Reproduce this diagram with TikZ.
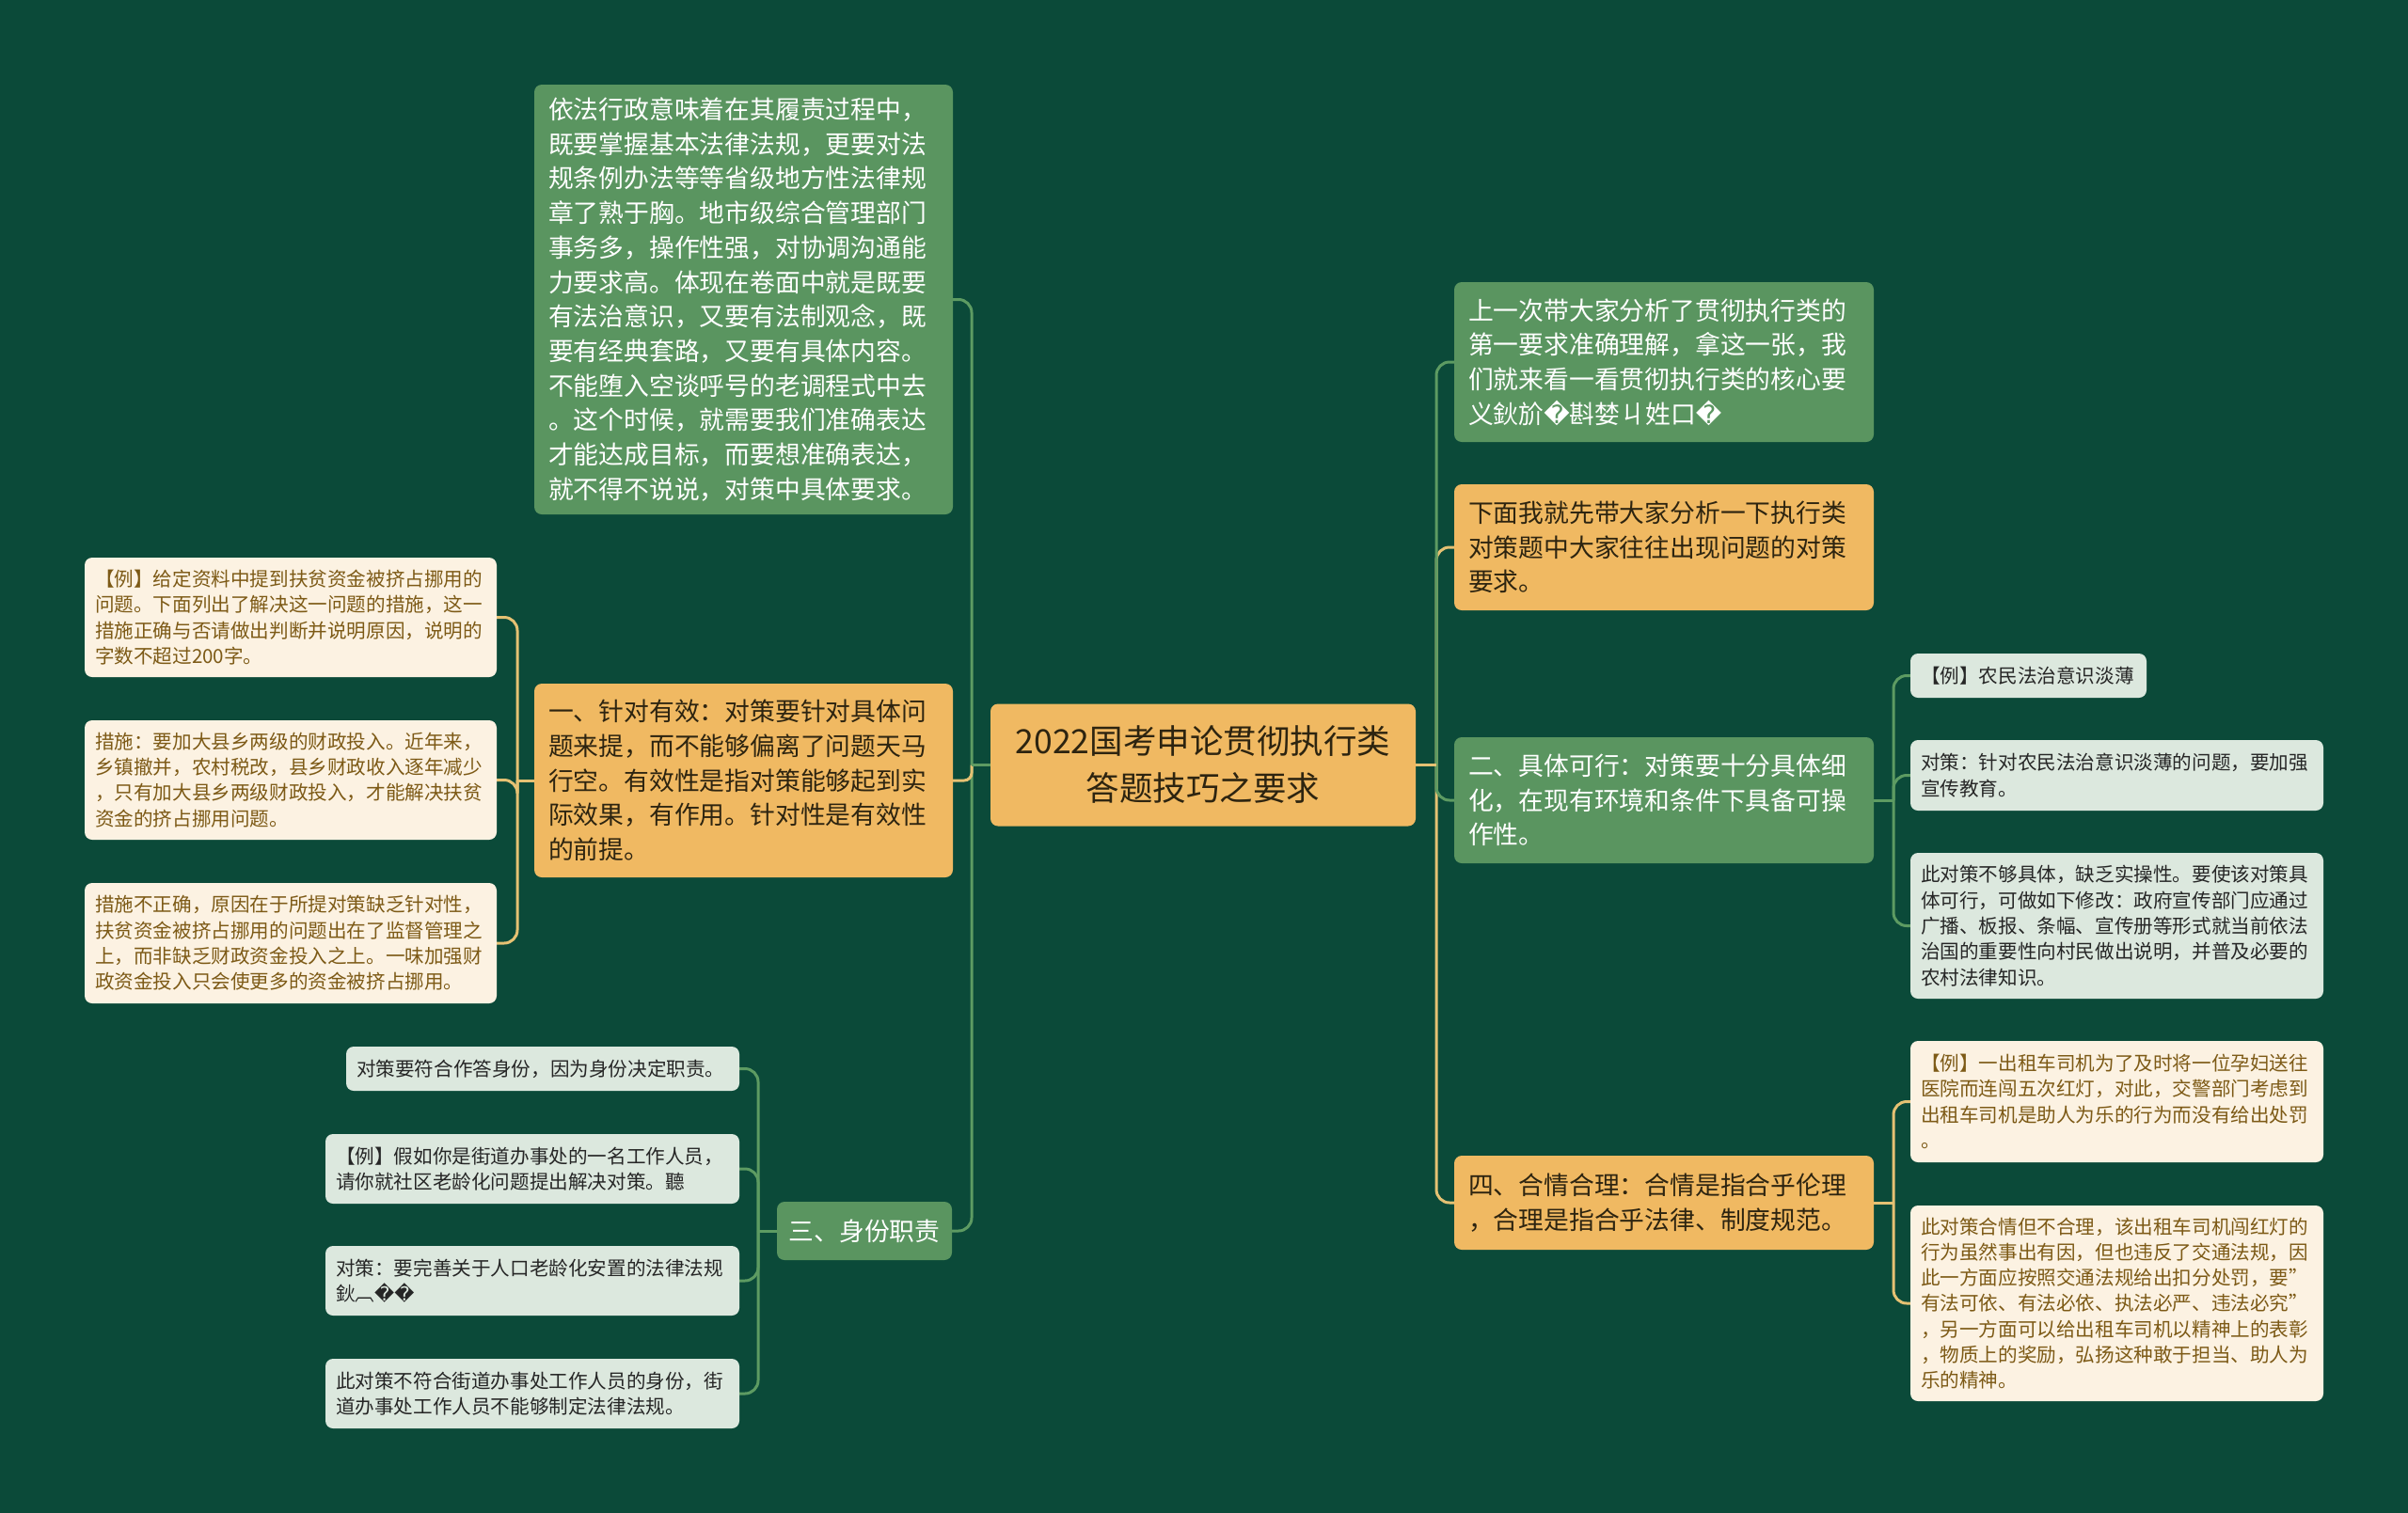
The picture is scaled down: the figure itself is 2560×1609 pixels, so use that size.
\documentclass[tikz,border=0pt]{standalone}
\usepackage{fontspec}
\setmainfont{Noto Sans CJK SC}
\newfontfamily\dv{DejaVu Sans}
\usetikzlibrary{backgrounds,calc}
\definecolor{bg}{HTML}{0B4A39}
\definecolor{gbox}{HTML}{5A9560}
\definecolor{obox}{HTML}{F0B962}
\definecolor{cbox}{HTML}{FCF2E2}
\definecolor{ctext}{HTML}{7D5A16}
\definecolor{lbox}{HTML}{DCE8DE}
\definecolor{ltext}{HTML}{262626}
\definecolor{otext}{HTML}{2D2410}
\definecolor{gline}{HTML}{5D9B62}
\definecolor{oline}{HTML}{E5C173}
\newcommand{\qq}{{\dv �}}
\tikzset{
  base/.style={rectangle, rounded corners=8pt, inner ysep=0pt, align=left},
  mainfont/.style={font=\fontsize{26.8pt}{36.7pt}\selectfont},
  leaffont/.style={font=\fontsize{20.6pt}{27.3pt}\selectfont},
  greenmain/.style={base, mainfont, fill=gbox, text=white, inner xsep=15pt},
  orangemain/.style={base, mainfont, fill=obox, text=otext, inner xsep=15pt},
  creamleaf/.style={base, leaffont, fill=cbox, text=ctext, inner xsep=11pt},
  grayleaf/.style={base, leaffont, fill=lbox, text=ltext, inner xsep=11pt},
  gcon/.style={draw=gline, line width=3pt, rounded corners=14pt},
  ocon/.style={draw=oline, line width=3pt, rounded corners=14pt},
}
\begin{document}
\begin{tikzpicture}[x=1pt,y=-1pt]
\useasboundingbox (0,0) rectangle (2560,1609);
% center
\node[base, fill=obox, text=otext, align=center, font=\fontsize{35.5pt}{50pt}\selectfont,
  minimum width=452pt, minimum height=130pt, text width=430pt] (C) at (1279,813.5)
  {2022国考申论贯彻执行类\\答题技巧之要求};
% left main branches
\node[greenmain, minimum width=445pt, minimum height=457pt, text width=415pt] (TL) at (790.5,318.5)
  {依法行政意味着在其履责过程中，\\既要掌握基本法律法规，更要对法\\规条例办法等等省级地方性法律规\\章了熟于胸。地市级综合管理部门\\事务多，操作性强，对协调沟通能\\力要求高。体现在卷面中就是既要\\有法治意识，又要有法制观念，既\\要有经典套路，又要有具体内容。\\不能堕入空谈呼号的老调程式中去\\。这个时候，就需要我们准确表达\\才能达成目标，而要想准确表达，\\就不得不说说，对策中具体要求。};
\node[orangemain, minimum width=445pt, minimum height=206pt, text width=415pt] (B1) at (790.5,830)
  {一、针对有效：对策要针对具体问\\题来提，而不能够偏离了问题天马\\行空。有效性是指对策能够起到实\\际效果，有作用。针对性是有效性\\的前提。};
\node[greenmain, align=center, minimum width=186pt, minimum height=62pt, text width=170pt, inner xsep=8pt] (B3) at (919,1309)
  {三、身份职责};
% left leaves of B1
\node[creamleaf, minimum width=438pt, minimum height=127pt, text width=416pt] (L1) at (309,656.5)
  {【例】给定资料中提到扶贫资金被挤占挪用的\\问题。下面列出了解决这一问题的措施，这一\\措施正确与否请做出判断并说明原因，说明的\\字数不超过200字。};
\node[creamleaf, minimum width=438pt, minimum height=127pt, text width=416pt] (L2) at (309,829.5)
  {措施：要加大县乡两级的财政投入。近年来，\\乡镇撤并，农村税改，县乡财政收入逐年减少\\，只有加大县乡两级财政投入，才能解决扶贫\\资金的挤占挪用问题。};
\node[creamleaf, minimum width=438pt, minimum height=128pt, text width=416pt] (L3) at (309,1003)
  {措施不正确，原因在于所提对策缺乏针对性，\\扶贫资金被挤占挪用的问题出在了监督管理之\\上，而非缺乏财政资金投入之上。一味加强财\\政资金投入只会使更多的资金被挤占挪用。};
% leaves of B3
\node[grayleaf, minimum width=418pt, minimum height=47pt, text width=396pt] (S1) at (577,1136.5)
  {对策要符合作答身份，因为身份决定职责。};
\node[grayleaf, minimum width=440pt, minimum height=74pt, text width=418pt] (S2) at (566,1243)
  {【例】假如你是街道办事处的一名工作人员，\\请你就社区老龄化问题提出解决对策。聽};
\node[grayleaf, minimum width=440pt, minimum height=74pt, text width=418pt] (S3) at (566,1362)
  {对策：要完善关于人口老龄化安置的法律法规\\鈥︹\qq\qq};
\node[grayleaf, minimum width=440pt, minimum height=74pt, text width=418pt] (S4) at (566,1482)
  {此对策不符合街道办事处工作人员的身份，街\\道办事处工作人员不能够制定法律法规。};
% right main branches
\node[greenmain, minimum width=446pt, minimum height=170pt, text width=416pt] (R1) at (1769,385)
  {上一次带大家分析了贯彻执行类的\\第一要求准确理解，拿这一张，我\\们就来看一看贯彻执行类的核心要\\义鈥斺\qq 斟婪ㄐ姓口\qq};
\node[orangemain, minimum width=446pt, minimum height=134pt, text width=416pt] (R2) at (1769,582)
  {下面我就先带大家分析一下执行类\\对策题中大家往往出现问题的对策\\要求。};
\node[greenmain, minimum width=446pt, minimum height=134pt, text width=416pt] (B2) at (1769,851)
  {二、具体可行：对策要十分具体细\\化，在现有环境和条件下具备可操\\作性。};
\node[orangemain, minimum width=446pt, minimum height=100pt, text width=416pt] (B4) at (1769,1279)
  {四、合情合理：合情是指合乎伦理\\，合理是指合乎法律、制度规范。};
% leaves of B2
\node[grayleaf, minimum width=251pt, minimum height=47pt, text width=229pt] (E1) at (2156.5,718.5)
  {【例】农民法治意识淡薄};
\node[grayleaf, minimum width=439pt, minimum height=75pt, text width=417pt] (E2) at (2250.5,824.5)
  {对策：针对农民法治意识淡薄的问题，要加强\\宣传教育。};
\node[grayleaf, minimum width=439pt, minimum height=155pt, text width=417pt] (E3) at (2250.5,984.5)
  {此对策不够具体，缺乏实操性。要使该对策具\\体可行，可做如下修改：政府宣传部门应通过\\广播、板报、条幅、宣传册等形式就当前依法\\治国的重要性向村民做出说明，并普及必要的\\农村法律知识。};
% leaves of B4
\node[creamleaf, minimum width=439pt, minimum height=129pt, text width=417pt] (F1) at (2250.5,1171.5)
  {【例】一出租车司机为了及时将一位孕妇送往\\医院而连闯五次红灯，对此，交警部门考虑到\\出租车司机是助人为乐的行为而没有给出处罚\\。};
\node[creamleaf, minimum width=439pt, minimum height=208pt, text width=417pt] (F2) at (2250.5,1386)
  {此对策合情但不合理，该出租车司机闯红灯的\\行为虽然事出有因，但也违反了交通法规，因\\此一方面应按照交通法规给出扣分处罚，要"\\有法可依、有法必依、执法必严、违法必究"\\，另一方面可以给出租车司机以精神上的表彰\\，物质上的奖励，弘扬这种敢于担当、助人为\\乐的精神。};
% trunk coordinates
\coordinate (LT) at (1033,0);
\coordinate (RT) at (1527,0);
\coordinate (LB1) at (550,0);
\coordinate (LB3) at (806,0);
\coordinate (RB2) at (2013,0);
\coordinate (RB4) at (2013,0);
\begin{pgfonlayer}{background}
\fill[bg] (0,0) rectangle (2560,1609);
% left trunk
\draw[gcon] (C.west -| LT) -- (TL.east -| LT) -- (TL.east);
\draw[gcon] (C.west -| LT) -- (B3.east -| LT) -- (B3.east);
\draw[ocon, rounded corners=8pt] (C.west -| LT) -- (B1.east -| LT) -- (B1.east);
\draw[gcon] (C.west) -- (C.west -| LT);
% right trunk
\draw[ocon] (C.east -| RT) -- (B4.west -| RT) -- (B4.west);
\draw[ocon] (C.east -| RT) -- (R2.west -| RT) -- (R2.west);
\draw[gcon] (C.east -| RT) -- (R1.west -| RT) -- (R1.west);
\draw[gcon] (C.east -| RT) -- (B2.west -| RT) -- (B2.west);
\draw[ocon] (C.east) -- (C.east -| RT);
% B1 leaves
\draw[ocon] (B1.west) -- (B1.west -| LB1);
\foreach \n in {L1,L2,L3}
  \draw[ocon] (B1.west -| LB1) -- (\n.east -| LB1) -- (\n.east);
% B3 leaves
\draw[gcon] (B3.west) -- (B3.west -| LB3);
\foreach \n in {S1,S2,S3,S4}
  \draw[gcon] (B3.west -| LB3) -- (\n.east -| LB3) -- (\n.east);
% B2 leaves
\draw[gcon] (B2.east) -- (B2.east -| RB2);
\foreach \n in {E1,E2,E3}
  \draw[gcon] (B2.east -| RB2) -- (\n.west -| RB2) -- (\n.west);
% B4 leaves
\draw[ocon] (B4.east) -- (B4.east -| RB4);
\foreach \n in {F1,F2}
  \draw[ocon] (B4.east -| RB4) -- (\n.west -| RB4) -- (\n.west);
\end{pgfonlayer}
\end{tikzpicture}
\end{document}
